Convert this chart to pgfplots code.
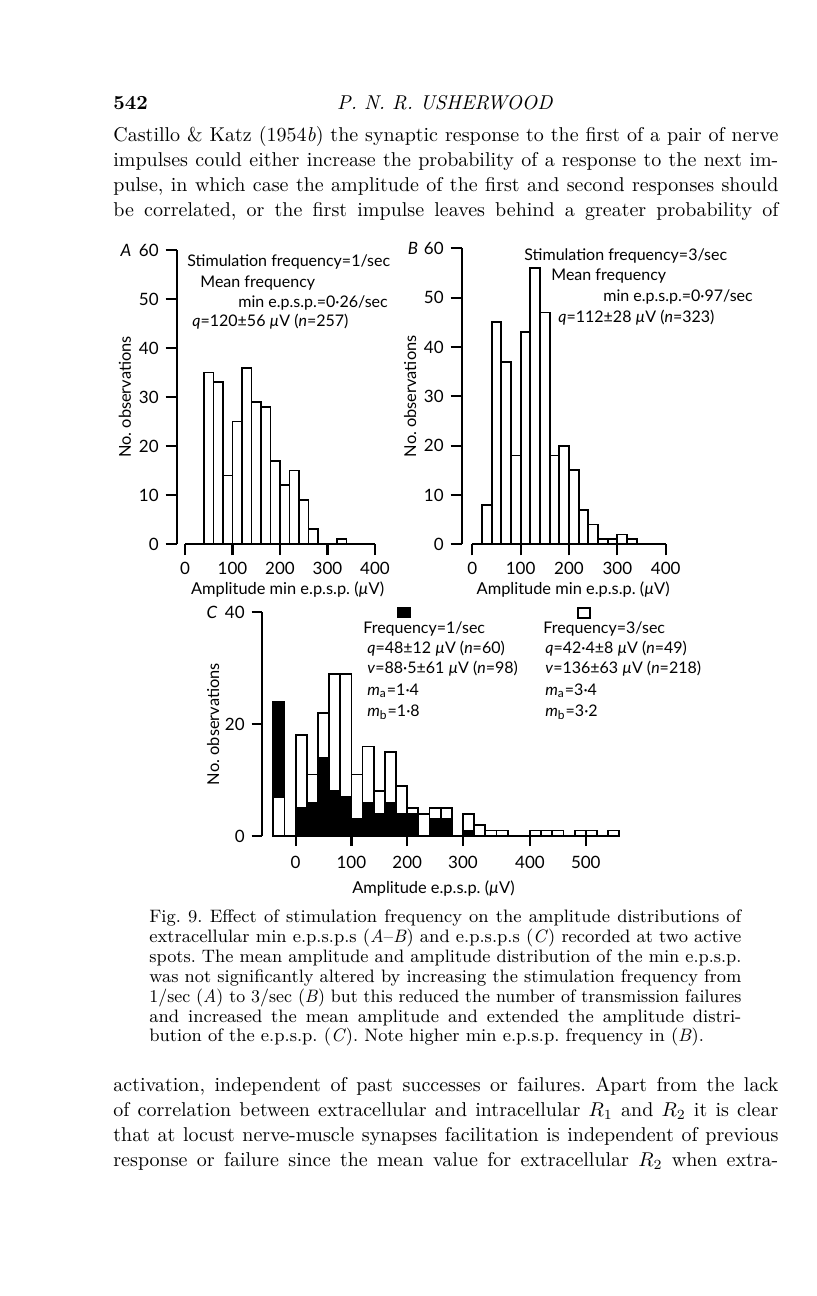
\documentclass[border=0pt]{standalone}
\usepackage{fontspec}
\usepackage{graphicx}
\usepackage{pgfplots}
\pgfplotsset{compat=1.18}
\newfontfamily\figfont{Lato}
\newcommand\ff{\figfont\fontsize{8pt}{9.5pt}\selectfont}
\newcommand\fl{\figfont\fontsize{8.2pt}{9.5pt}\selectfont}
\newcommand\ft{\figfont\fontsize{8.5pt}{10pt}\selectfont}
\newsavebox\lbox
\newcommand\jl[2]{\sbox\lbox{#2}\ifdim\wd\lbox>#1\relax\resizebox{#1}{\ht\lbox}{\usebox\lbox}\else\makebox[#1][s]{#2}\fi}
\newcommand\muu{\textit{µ}}
\pgfplotsset{
 panel/.style={
  scale only axis, anchor=south west,
  axis x line=bottom, axis y line=left,
  every outer x axis line/.append style={-},
  every outer y axis line/.append style={-},
  axis line style={line width=1.1pt},
  tick style={black, line width=1.1pt},
  tick align=outside, major tick length=5.5pt,
  enlargelimits=false, clip=false,
  tick label style={font=\ft},
  label style={font=\fl},
  /pgf/number format/assume math mode=true,
  /pgf/number format/1000 sep={},
  xlabel style={anchor=center}, ylabel style={anchor=center},
 },
 bw/.style={ybar interval, fill=white, draw=black, line width=0.9pt},
 bk/.style={ybar interval, fill=black, draw=black, line width=0.9pt},
}
\begin{document}
\frenchspacing
\begin{tikzpicture}
\useasboundingbox (0pt,0pt) rectangle (408pt,-648pt);
\fill[white] (0pt,0pt) rectangle (408pt,-648pt);

% Panel A
\begin{axis}[panel, at={(92.5pt,-272pt)}, width=95pt, height=147pt,
  xmin=0, xmax=400, ymin=0, ymax=60,
  xtick={0,100,200,300,400}, ytick={0,10,20,30,40,50,60},
  axis y line shift=4.15pt,
  xlabel={Amplitude min e.p.s.p. (\muu V)}, ylabel={No. observations},
  xlabel style={at={(axis description cs:0.54,-0.156)}},
  ylabel style={at={(axis description cs:-0.316,0.5)}}]
\addplot[bw] coordinates {(40,35) (60,33) (80,14) (100,25) (120,36) (140,29) (160,28) (180,17) (200,12) (220,15) (240,9) (260,3) (280,0)};
\addplot[bw] coordinates {(320,1) (340,0)};
\end{axis}

% Panel B
\begin{axis}[panel, at={(236.15pt,-272.15pt)}, width=96.7pt, height=148pt,
  xmin=0, xmax=400, ymin=0, ymax=60,
  xtick={0,100,200,300,400}, ytick={0,10,20,30,40,50,60},
  axis y line shift=5.3pt,
  xlabel={Amplitude min e.p.s.p. (\muu V)}, ylabel={No. observations},
  xlabel style={at={(axis description cs:0.522,-0.154)}},
  ylabel style={at={(axis description cs:-0.322,0.5)}}]
\addplot[bw] coordinates {(20,8) (40,45) (60,37) (80,18) (100,43) (120,56) (140,47) (160,18) (180,20) (200,15) (220,7) (240,4) (260,1) (280,1) (300,2) (320,1) (340,0)};
\end{axis}

% Panel C
\begin{axis}[panel, at={(136.65pt,-418pt)}, width=173pt, height=111.85pt,
  xmin=-40, xmax=580, ymin=0, ymax=40,
  xtick={0,100,200,300,420,520}, xticklabels={0,100,200,300,400,500},
  ytick={0,20,40}, major tick length=5pt,
  xticklabel style={yshift=-1.5pt},
  axis y line shift=5.8pt,
  xlabel={Amplitude e.p.s.p. (\muu V)}, ylabel={No. observations},
  xlabel style={at={(axis description cs:0.463,-0.234)}},
  ylabel style={at={(axis description cs:-0.174,0.5)}}]
% back layer
\addplot[bk] coordinates {(-40,24) (-20,0)};
\addplot[bw] coordinates {(0,18) (20,11) (40,22) (60,29) (80,29) (100,11) (120,16) (140,8) (160,15) (180,9) (200,5) (220,4) (240,5) (260,5) (280,0)};
\addplot[bw] coordinates {(300,4) (320,2) (340,1) (360,1) (380,0)};
\addplot[bw] coordinates {(420,1) (440,1) (460,1) (480,0)};
\addplot[bw] coordinates {(500,1) (520,1) (540,0)};
\addplot[bw] coordinates {(560,1) (580,0)};
% front layer
\addplot[bw] coordinates {(-40,7) (-20,0)};
\addplot[bk] coordinates {(0,5) (20,6) (40,14) (60,8) (80,7) (100,3) (120,6) (140,4) (160,6) (180,4) (200,4) (220,0) (240,3) (260,3) (280,0)};
\addplot[bk] coordinates {(300,1) (320,0)};
\end{axis}

\begin{scope}[x=0.5pt,y=-0.5pt]
% panel letters
\node[font=\ft] at (126,250) {\textit{A}};
\node[font=\ft] at (413,248) {\textit{B}};
\node[font=\ft] at (212,612) {\textit{C}};
\begin{scope}[every node/.style={anchor=west, inner sep=0pt, font=\ff}]
% annotations A
\node at (187,262) {Stimulation frequency=1/sec};
\node at (200,283) {Mean frequency};
\node at (238,303) {min e.p.s.p.=0·26/sec};
\node at (192,322) {\textit{q}=120±56 \muu V (\textit{n}=257)};
% annotations B
\node at (524,256) {Stimulation frequency=3/sec};
\node at (551,276) {Mean frequency};
\node at (603,297) {min e.p.s.p.=0·97/sec};
\node at (558,318) {\textit{q}=112±28 \muu V (\textit{n}=323)};
% legend C
\node at (363,629) {Frequency=1/sec};
\node at (367,649) {\textit{q}=48±12 \muu V (\textit{n}=60)};
\node at (367,669) {\textit{v}=88·5±61 \muu V (\textit{n}=98)};
\node at (367,691) {\textit{m}\textsubscript{a}=1·4};
\node at (367,712) {\textit{m}\textsubscript{b}=1·8};
\node at (543,629) {Frequency=3/sec};
\node at (545,649) {\textit{q}=42·4±8 \muu V (\textit{n}=49)};
\node at (545,669) {\textit{v}=136±63 \muu V (\textit{n}=218)};
\node at (545,691) {\textit{m}\textsubscript{a}=3·4};
\node at (545,712) {\textit{m}\textsubscript{b}=3·2};
\end{scope}
\fill[black] (397,607) rectangle (411,618);
\draw[line width=0.9pt, fill=white] (578,608) rectangle (590,618);

% page text
\begin{scope}[every node/.style={anchor=base west, inner sep=0pt, font=\fontsize{10pt}{12pt}\selectfont}]
\node at (113,109.5) {\textbf{542}};
\node[anchor=base] at (445,109.5) {\textit{P. N. R. USHERWOOD}};
\node at (113,141.5) {\jl{332.5pt}{Castillo \& Katz (1954\textit{b}) the synaptic response to the first of a pair of nerve}};
\node at (113,166.5) {\jl{332.5pt}{impulses could either increase the probability of a response to the next im-}};
\node at (113,191.5) {\jl{332.5pt}{pulse, in which case the amplitude of the first and second responses should}};
\node at (113,216.5) {\jl{332.5pt}{be correlated, or the first impulse leaves behind a greater probability of}};
\node at (113,1091.5) {\jl{332.5pt}{activation, independent of past successes or failures. Apart from the lack}};
\node at (113,1116.5) {\jl{332.5pt}{of correlation between extracellular and intracellular $R_1$ and $R_2$ it is clear}};
\node at (113,1141.5) {\jl{332.5pt}{that at locust nerve-muscle synapses facilitation is independent of previous}};
\node at (113,1166.5) {\jl{332.5pt}{response or failure since the mean value for extracellular $R_2$ when extra-}};
\end{scope}
\begin{scope}[every node/.style={anchor=base west, inner sep=0pt, font=\fontsize{9pt}{10pt}\selectfont}]
\node at (149,922) {\jl{296pt}{Fig. 9. Effect of stimulation frequency on the amplitude distributions of}};
\node at (149,942) {\jl{296pt}{extracellular min e.p.s.p.s (\textit{A}--\textit{B}) and e.p.s.p.s (\textit{C}) recorded at two active}};
\node at (149,962) {\jl{296pt}{spots. The mean amplitude and amplitude distribution of the min e.p.s.p.}};
\node at (149,982) {\jl{296pt}{was not significantly altered by increasing the stimulation frequency from}};
\node at (149,1002) {\jl{296pt}{1/sec (\textit{A}) to 3/sec (\textit{B}) but this reduced the number of transmission failures}};
\node at (149,1022) {\jl{296pt}{and increased the mean amplitude and extended the amplitude distri-}};
\node at (149,1041) {bution of the e.p.s.p. (\textit{C}). Note higher min e.p.s.p. frequency in (\textit{B}).};
\end{scope}
\end{scope}
\end{tikzpicture}
\end{document}
